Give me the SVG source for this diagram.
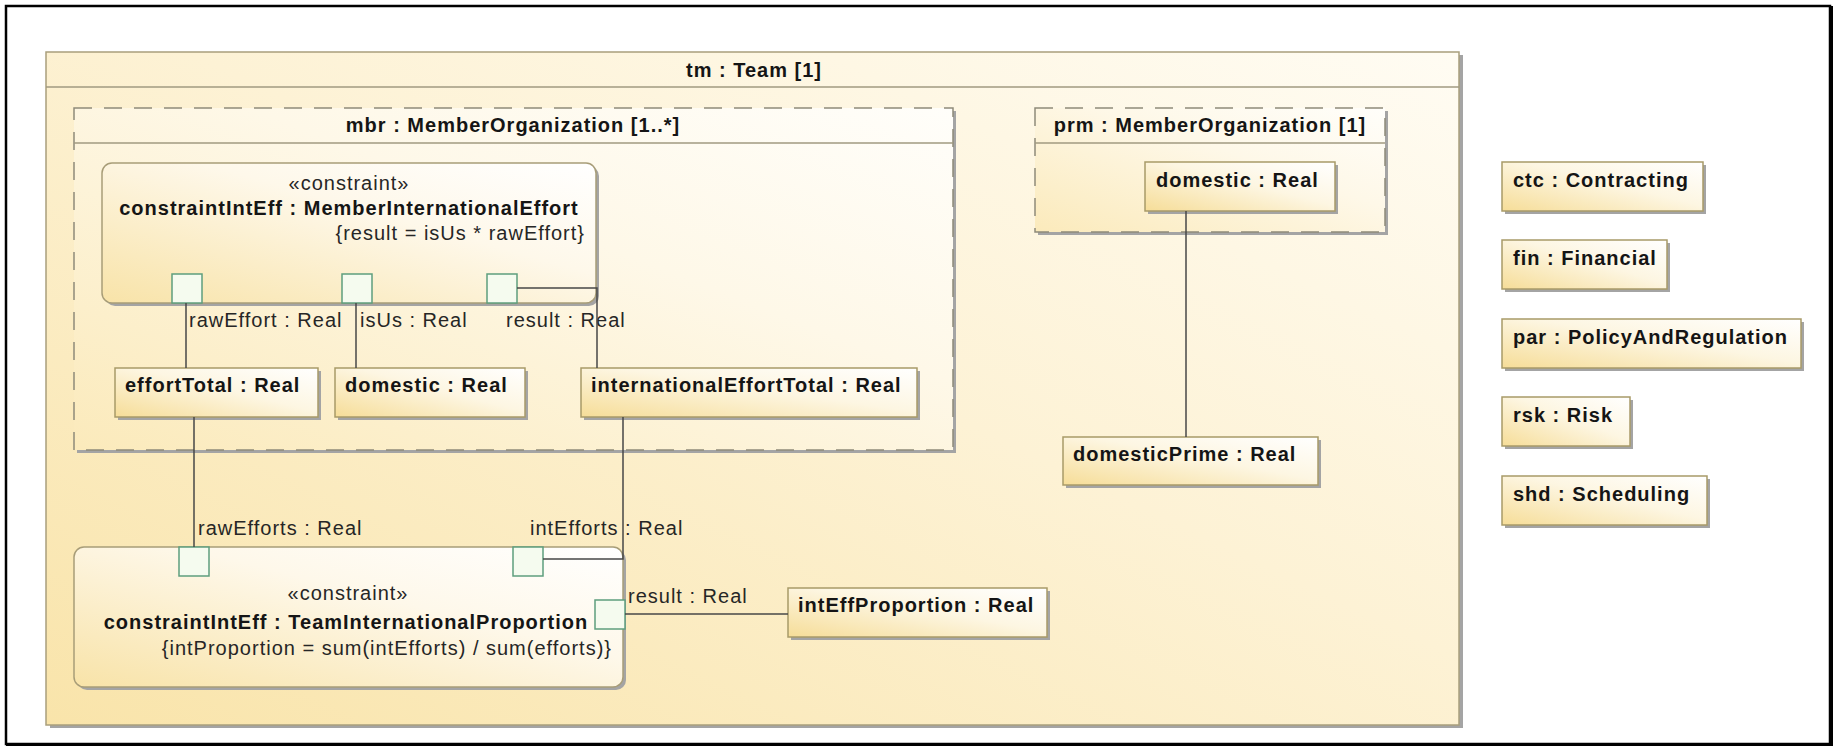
<svg xmlns="http://www.w3.org/2000/svg" width="1837" height="748" viewBox="0 0 1837 748">
  <defs>
    <!-- diagonal fills: warm yellow at lower-left fading to white at upper-right -->
    <linearGradient id="gFrame" x1="0" y1="1" x2="1" y2="0">
      <stop offset="0" stop-color="#f9e4aa"/>
      <stop offset="0.55" stop-color="#fdf2d5"/>
      <stop offset="1" stop-color="#fffcf3"/>
    </linearGradient>
    <linearGradient id="gInner" x1="0" y1="1" x2="1" y2="0">
      <stop offset="0" stop-color="#fbeabb"/>
      <stop offset="0.6" stop-color="#fef8e8"/>
      <stop offset="1" stop-color="#fffefa"/>
    </linearGradient>
    <linearGradient id="gBox" x1="0" y1="1" x2="1" y2="0">
      <stop offset="0" stop-color="#f6dd98"/>
      <stop offset="0.55" stop-color="#fdf6e2"/>
      <stop offset="1" stop-color="#ffffff"/>
    </linearGradient>
    <linearGradient id="gCons" x1="0" y1="1" x2="1" y2="0">
      <stop offset="0" stop-color="#f8e3a8"/>
      <stop offset="0.6" stop-color="#fef8ea"/>
      <stop offset="1" stop-color="#ffffff"/>
    </linearGradient>
  </defs>
  <style>
    .b { font-family: "Liberation Sans", Arial, sans-serif; font-weight: bold; font-size: 20px; letter-spacing: 1px; fill: #151515; }
    .r { font-family: "Liberation Sans", Arial, sans-serif; font-size: 20px; letter-spacing: 1px; fill: #262626; }
    .mid { text-anchor: middle; }
    .end { text-anchor: end; }
    .sh { fill: #a4a4a4; }
    .frame { fill: url(#gFrame); stroke: #a99f7c; stroke-width: 1.5; }
    .inner { fill: url(#gInner); stroke: #8f8b7a; stroke-width: 1.5; stroke-dasharray: 18 12; }
    .hdr { stroke: #a09a80; stroke-width: 1.5; fill: none; }
    .box { fill: url(#gBox); stroke: #a89a68; stroke-width: 1.5; }
    .cons { fill: url(#gCons); stroke: #a89d78; stroke-width: 1.5; }
    .port { fill: #f5fbef; stroke: #5e9e7e; stroke-width: 1.5; }
    #connectors path { fill: none; stroke: #474747; stroke-width: 1.5; }
  </style>

  <rect x="0" y="0" width="1837" height="748" fill="#ffffff"/>
  <!-- page border -->
  <rect x="6" y="6" width="1824" height="738" fill="none" stroke="#000" stroke-width="2.5"/>
  <rect x="1829" y="6" width="4" height="740" fill="#000"/>
  <rect x="6" y="743" width="1827" height="3" fill="#000"/>

  <!-- block frame -->
  <g id="team">
    <rect class="sh" x="50" y="55" width="1413" height="673"/>
    <rect class="frame" x="46" y="52" width="1413" height="673"/>
    <line class="hdr" x1="46" y1="87" x2="1459" y2="87"/>
    <text class="b mid" x="754" y="77">tm : Team [1]</text>
  </g>

  <g id="mbr">
    <rect class="sh" x="77" y="111" width="879" height="342"/>
    <rect class="inner" x="74" y="108" width="879" height="342"/>
    <line class="hdr" x1="74" y1="143" x2="953" y2="143"/>
    <text class="b mid" x="513" y="132">mbr : MemberOrganization [1..*]</text>
  </g>

  <g id="prm">
    <rect class="sh" x="1038" y="111" width="350" height="124"/>
    <rect class="inner" x="1035" y="108" width="350" height="124"/>
    <line class="hdr" x1="1035" y1="143" x2="1385" y2="143"/>
    <text class="b mid" x="1210" y="132">prm : MemberOrganization [1]</text>
  </g>

  <!-- constraint property inside mbr -->
  <g id="constraintMember">
    <rect class="sh" x="105" y="166" width="494" height="140" rx="10"/>
    <rect class="cons" x="102" y="163" width="494" height="140" rx="10"/>
    <text class="r mid" x="349" y="190">«constraint»</text>
    <text class="b mid" x="349" y="215">constraintIntEff : MemberInternationalEffort</text>
    <text class="r end" x="585" y="240">{result = isUs * rawEffort}</text>
    <rect class="port" x="172" y="274" width="30" height="29"/>
    <rect class="port" x="342" y="274" width="30" height="29"/>
    <rect class="port" x="487" y="274" width="30" height="29"/>
    <text class="r" x="189" y="327">rawEffort : Real</text>
    <text class="r" x="360" y="327">isUs : Real</text>
    <text class="r" x="506" y="327">result : Real</text>
  </g>

  <g id="effortTotal">
    <rect class="sh" x="118" y="371" width="203" height="49"/>
    <rect class="box" x="115" y="368" width="203" height="49"/>
    <text class="b" x="125" y="392">effortTotal : Real</text>
  </g>
  <g id="domestic">
    <rect class="sh" x="338" y="371" width="190" height="49"/>
    <rect class="box" x="335" y="368" width="190" height="49"/>
    <text class="b" x="345" y="392">domestic : Real</text>
  </g>
  <g id="internationalEffortTotal">
    <rect class="sh" x="584" y="371" width="336" height="49"/>
    <rect class="box" x="581" y="368" width="336" height="49"/>
    <text class="b" x="591" y="392">internationalEffortTotal : Real</text>
  </g>

  <g id="prmDomestic">
    <rect class="sh" x="1148" y="165" width="190" height="49"/>
    <rect class="box" x="1145" y="162" width="190" height="49"/>
    <text class="b" x="1156" y="187">domestic : Real</text>
  </g>
  <g id="domesticPrime">
    <rect class="sh" x="1066" y="440" width="255" height="48"/>
    <rect class="box" x="1063" y="437" width="255" height="48"/>
    <text class="b" x="1073" y="461">domesticPrime : Real</text>
  </g>

  <!-- team-level constraint property -->
  <g id="constraintTeam">
    <rect class="sh" x="77" y="550" width="549" height="140" rx="10"/>
    <rect class="cons" x="74" y="547" width="549" height="140" rx="10"/>
    <text class="r mid" x="348" y="600">«constraint»</text>
    <text class="b mid" x="346" y="629">constraintIntEff : TeamInternationalProportion</text>
    <text class="r end" x="612" y="655">{intProportion = sum(intEfforts) / sum(efforts)}</text>
    <rect class="port" x="179" y="547" width="30" height="29"/>
    <rect class="port" x="513" y="547" width="30" height="29"/>
    <rect class="port" x="595" y="600" width="30" height="29"/>
    <text class="r" x="198" y="535">rawEfforts : Real</text>
    <text class="r" x="530" y="535">intEfforts : Real</text>
    <text class="r" x="628" y="603">result : Real</text>
  </g>

  <g id="intEffProportion">
    <rect class="sh" x="791" y="591" width="259" height="49"/>
    <rect class="box" x="788" y="588" width="259" height="49"/>
    <text class="b" x="798" y="612">intEffProportion : Real</text>
  </g>

  <!-- parts outside the block frame -->
  <g id="ctc">
    <rect class="sh" x="1505" y="165" width="201" height="49"/>
    <rect class="box" x="1502" y="162" width="201" height="49"/>
    <text class="b" x="1513" y="187">ctc : Contracting</text>
  </g>
  <g id="fin">
    <rect class="sh" x="1505" y="243" width="165" height="49"/>
    <rect class="box" x="1502" y="240" width="165" height="49"/>
    <text class="b" x="1513" y="265">fin : Financial</text>
  </g>
  <g id="par">
    <rect class="sh" x="1505" y="322" width="299" height="49"/>
    <rect class="box" x="1502" y="319" width="299" height="49"/>
    <text class="b" x="1513" y="344">par : PolicyAndRegulation</text>
  </g>
  <g id="rsk">
    <rect class="sh" x="1505" y="400" width="128" height="49"/>
    <rect class="box" x="1502" y="397" width="128" height="49"/>
    <text class="b" x="1513" y="422">rsk : Risk</text>
  </g>
  <g id="shd">
    <rect class="sh" x="1505" y="479" width="205" height="49"/>
    <rect class="box" x="1502" y="476" width="205" height="49"/>
    <text class="b" x="1513" y="501">shd : Scheduling</text>
  </g>

  <!-- binding connectors -->
  <g id="connectors">
    <path d="M186 303 V368"/>
    <path d="M356 303 V368"/>
    <path d="M517 288 H597 V368"/>
    <path d="M194 417 V547"/>
    <path d="M623 417 V559 H543"/>
    <path d="M625 614 H788"/>
    <path d="M1186 211 V437"/>
  </g>
</svg>
